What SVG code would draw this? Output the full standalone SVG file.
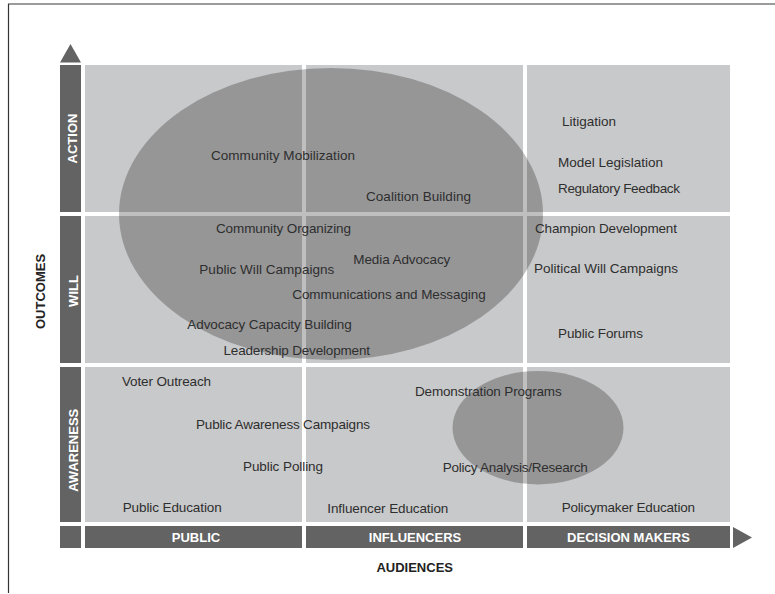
<svg xmlns="http://www.w3.org/2000/svg" width="775" height="594" viewBox="0 0 775 594">
<style>
.cell{fill:#c8c9ca}
.bar{fill:#636363}
.ell{fill:#000;fill-opacity:0.25}
.t{font-family:"Liberation Sans",Arial,sans-serif;font-size:13.5px;fill:#2e2e2e}
.bl{font-family:"Liberation Sans",Arial,sans-serif;font-size:13px;font-weight:bold;fill:#fff;text-anchor:middle}
.ax{font-family:"Liberation Sans",Arial,sans-serif;font-size:13px;font-weight:bold;fill:#222;text-anchor:middle}
</style>
<rect width="775" height="594" fill="#fff"/>
<g id="frame">
<line x1="8" y1="4" x2="775" y2="4" stroke="#7a7a7a" stroke-width="1.5"/>
<line x1="8.5" y1="4" x2="8.5" y2="593" stroke="#333" stroke-width="1.2"/>
</g>
<g id="grid">
<rect class="cell" x="85" y="65" width="217" height="147"/>
<rect class="cell" x="306" y="65" width="217" height="147"/>
<rect class="cell" x="527" y="65" width="203" height="147"/>
<rect class="cell" x="85" y="216" width="217" height="147"/>
<rect class="cell" x="306" y="216" width="217" height="147"/>
<rect class="cell" x="527" y="216" width="203" height="147"/>
<rect class="cell" x="85" y="367" width="217" height="155"/>
<rect class="cell" x="306" y="367" width="217" height="155"/>
<rect class="cell" x="527" y="367" width="203" height="155"/>
</g>
<g id="outcome-axis">
<rect class="bar" x="60" y="65" width="21" height="147"/>
<rect class="bar" x="60" y="216" width="21" height="147"/>
<rect class="bar" x="60" y="367" width="21" height="155"/>
<rect class="bar" x="60" y="526" width="21" height="22"/>
<text class="bl" transform="translate(77.3,138.5) rotate(-90)">ACTION</text>
<text class="bl" transform="translate(77.8,291) rotate(-90)">WILL</text>
<text class="bl" transform="translate(77.8,450.3) rotate(-90)">AWARENESS</text>
<text class="ax" transform="translate(45,291.5) rotate(-90)">OUTCOMES</text>
</g>
<g id="audience-axis">
<rect class="bar" x="85" y="526" width="217" height="22"/>
<rect class="bar" x="306" y="526" width="217" height="22"/>
<rect class="bar" x="527" y="526" width="203" height="22"/>
<text class="bl" x="196" y="542">PUBLIC</text>
<text class="bl" x="415" y="542">INFLUENCERS</text>
<text class="bl" x="628.5" y="542">DECISION MAKERS</text>
<text class="ax" x="414.7" y="572.3">AUDIENCES</text>
</g>
<g id="arrows">
<polygon points="70.5,44 81,62.5 60,62.5" fill="#636363"/>
<polygon points="733,527 752,537.5 733,548" fill="#636363"/>
</g>
<g id="ellipse-large">
<ellipse class="ell" cx="331" cy="214" rx="212" ry="146"/>
</g>
<g id="ellipse-small">
<ellipse class="ell" cx="538" cy="427.7" rx="85.5" ry="56.7"/>
</g>
<g id="labels">
<text class="t" x="211" y="159.5" textLength="144">Community Mobilization</text>
<text class="t" x="366" y="200.7" textLength="105">Coalition Building</text>
<text class="t" x="562" y="126" textLength="54">Litigation</text>
<text class="t" x="558" y="166.5" textLength="105">Model Legislation</text>
<text class="t" x="558" y="192.5" textLength="122">Regulatory Feedback</text>
<text class="t" x="216" y="232.7" textLength="135">Community Organizing</text>
<text class="t" x="535" y="232.7" textLength="142">Champion Development</text>
<text class="t" x="199.3" y="274" textLength="135">Public Will Campaigns</text>
<text class="t" x="353.3" y="264" textLength="97">Media Advocacy</text>
<text class="t" x="534" y="273" textLength="144">Political Will Campaigns</text>
<text class="t" x="292.3" y="299" textLength="193.4">Communications and Messaging</text>
<text class="t" x="187.3" y="329.3" textLength="164.5">Advocacy Capacity Building</text>
<text class="t" x="223.5" y="355" textLength="146.5">Leadership Development</text>
<text class="t" x="558" y="337.5" textLength="85">Public Forums</text>
<text class="t" x="122" y="385.5" textLength="89">Voter Outreach</text>
<text class="t" x="415" y="395.7" textLength="146.7">Demonstration Programs</text>
<text class="t" x="196" y="428.5" textLength="174">Public Awareness Campaigns</text>
<text class="t" x="243" y="470.5" textLength="80">Public Polling</text>
<text class="t" x="442.7" y="471.7" textLength="145">Policy Analysis/Research</text>
<text class="t" x="122.7" y="511.7" textLength="99">Public Education</text>
<text class="t" x="327.3" y="512.7" textLength="121">Influencer Education</text>
<text class="t" x="561.7" y="511.7" textLength="133.3">Policymaker Education</text>
</g>
</svg>
